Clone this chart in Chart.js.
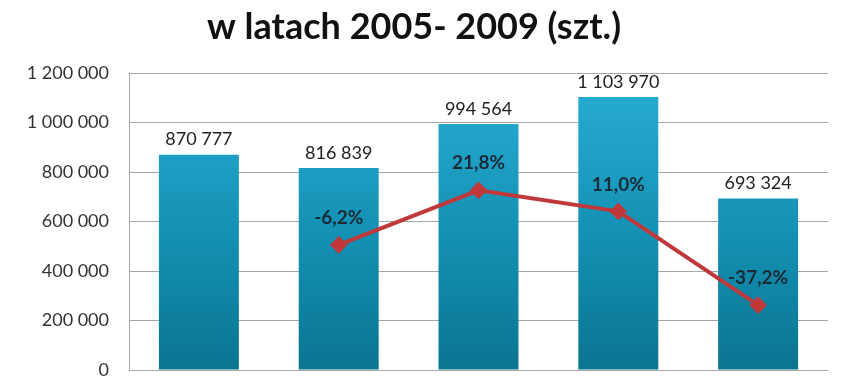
<!DOCTYPE html>
<html>
<head>
<meta charset="utf-8">
<script src="https://cdn.jsdelivr.net/npm/chart.js@4/dist/chart.umd.min.js"></script>
<style>
  html, body { margin: 0; padding: 0; background: #ffffff; }
  #wrap { width: 848px; height: 380px; }
</style>
</head>
<body>
<div id="wrap"><canvas id="chart_canvas" width="848" height="380"></canvas></div>
<script>

// dane
const years = ["2005", "2006", "2007", "2008", "2009"];
const units = [870777, 816839, 994564, 1103970, 693324];
const change_pct = [null, -6.2, 21.8, 11.0, -37.2];
const title_text = "w latach 2005- 2009 (szt.)";

const fontName = "Lato, 'Open Sans', sans-serif";

function formatThousands(v){
    return String(v).replace(/\B(?=(\d{3})+(?!\d))/g, " ");
}

function formatPct(v){
    return v.toFixed(1).replace(".", ",") + "%";
}

function barGradient(context){
    const area = context.chart.chartArea;
    if(!area){
        return "#1a9cc4";
    }
    const g = context.chart.ctx.createLinearGradient(0, area.top, 0, area.bottom);
    g.addColorStop(0, "#2aaed6");
    g.addColorStop(0.5, "#1593b6");
    g.addColorStop(1, "#0a7591");
    return g;
}

// etykiety wartości nad słupkami i przy punktach linii
const valueLabels = {
    id: "valueLabels",
    afterDatasetsDraw(chart){
        const ctx = chart.ctx;
        ctx.save();
        ctx.textAlign = "center";
        ctx.textBaseline = "middle";

        // słupki
        ctx.font = "18px " + fontName;
        ctx.fillStyle = "#222222";
        chart.getDatasetMeta(1).data.forEach((bar, i) => {
            ctx.fillText(formatThousands(units[i]), bar.x, bar.y - 15);
        });

        // procenty
        ctx.font = "bold 19px " + fontName;
        ctx.fillStyle = "#1c2a36";
        chart.getDatasetMeta(0).data.forEach((pt, i) => {
            if(change_pct[i] === null) return;
            ctx.fillText(formatPct(change_pct[i]), pt.x, pt.y - 27);
        });

        ctx.restore();
    }
};

new Chart(chart_canvas, {

    data: {
        labels: years,
        datasets: [
            {
                type: "line",
                data: change_pct,
                yAxisID: "y2",
                borderColor: "#c0383a",
                borderWidth: 4,
                pointStyle: "rectRot",
                pointRadius: 6,
                pointBackgroundColor: "#c0383a",
                pointBorderColor: "#c0383a",
                spanGaps: false,
                order: 0
            },
            {
                type: "bar",
                data: units,
                yAxisID: "y",
                backgroundColor: barGradient,
                barPercentage: 0.572,
                categoryPercentage: 1.0,
                order: 1
            }
        ]
    },

    options: {
        responsive: false,
        animation: false,
        layout: { padding: { left: 0, right: 20, top: 0, bottom: 4 } },
        plugins: {
            legend: { display: false },
            tooltip: { enabled: false },
            title: {
                display: true,
                text: title_text,
                color: "#111111",
                font: { family: fontName, size: 36, weight: "bold" },
                padding: { top: 6, bottom: 24 }
            }
        },
        scales: {
            x: {
                display: false
            },
            y: {
                min: 0,
                max: 1200000,
                ticks: {
                    stepSize: 200000,
                    color: "#333333",
                    font: { family: fontName, size: 18 },
                    padding: 20,
                    callback: (v) => formatThousands(v)
                },
                grid: { color: "#a6a6a6", lineWidth: 1, drawTicks: false },
                border: { display: true, color: "#a6a6a6", width: 1 },
                afterFit(scale){
                    scale.width = 129;
                    // padding etykiet nie powinien zabierać miejsca w pionie
                    scale.paddingTop = 0;
                    scale.paddingBottom = 0;
                }
            },
            y2: {
                display: false,
                min: -70.5,
                max: 82
            }
        }
    },

    plugins: [valueLabels]

});

</script>
</body>
</html>
